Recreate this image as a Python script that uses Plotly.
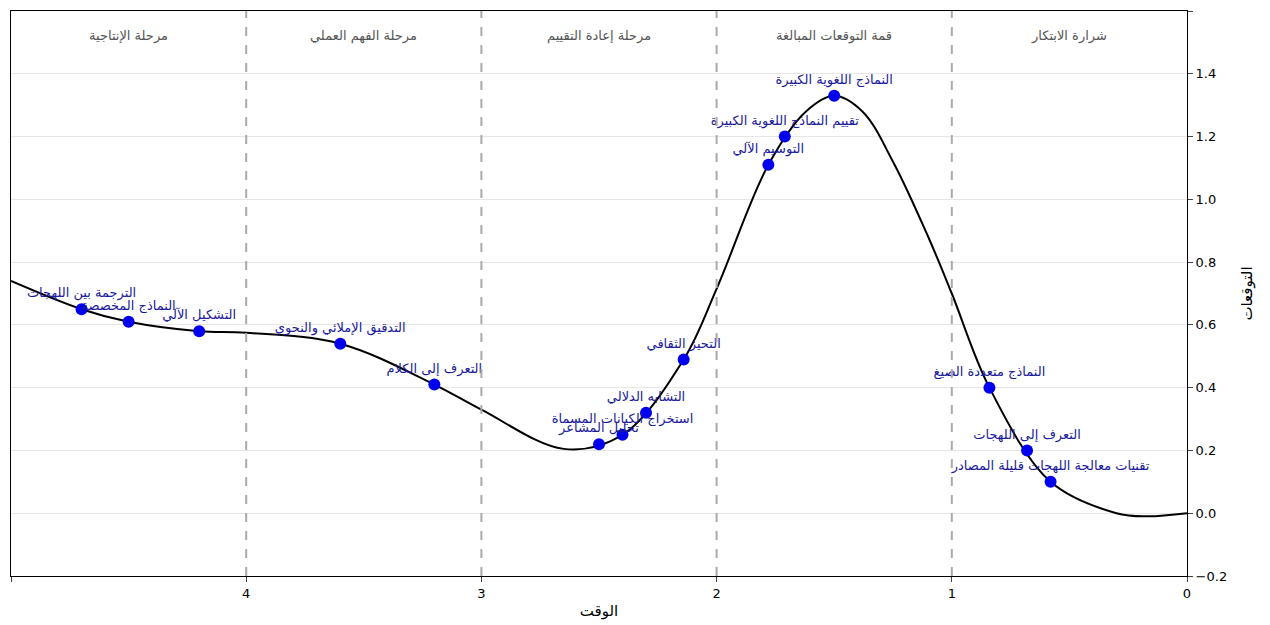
import plotly.graph_objects as go

curve_x = [5, 4.7, 4.5, 4.2, 4.0, 3.6, 3.2, 3.0, 2.65, 2.4, 2.14, 2.0, 1.78, 1.62, 1.5, 1.38, 1.25, 1.1, 1.0, 0.84, 0.58, 0.3, 0.17, 0.0]
curve_y = [0.74, 0.65, 0.61, 0.58, 0.575, 0.54, 0.41, 0.33, 0.205, 0.25, 0.49, 0.715, 1.11, 1.28, 1.33, 1.28, 1.12, 0.88, 0.70, 0.40, 0.10, 0.0, -0.01, 0.0]

tech_names = ["الترجمة بين اللهجات", "النماذج المخصصة", "التشكيل الآلي", "التدقيق الإملائي والنحوي",
              "التعرف إلى الكلام", "تحليل المشاعر", "استخراج الكيانات المسماة", "التشابه الدلالي",
              "التحيز الثقافي", "التوسيم الآلي", "تقييم النماذج اللغوية الكبيرة", "النماذج اللغوية الكبيرة",
              "النماذج متعددة الصيغ", "التعرف إلى اللهجات", "تقنيات معالجة اللهجات قليلة المصادر"]
tech_x = [4.70, 4.50, 4.20, 3.60, 3.20, 2.50, 2.40, 2.30, 2.14, 1.78, 1.71, 1.50, 0.84, 0.68, 0.58]
tech_y = [0.65, 0.61, 0.58, 0.54, 0.41, 0.22, 0.25, 0.32, 0.49, 1.11, 1.20, 1.33, 0.40, 0.20, 0.10]

phase_names = ["مرحلة الإنتاجية", "مرحلة الفهم العملي", "مرحلة إعادة التقييم", "قمة التوقعات المبالغة", "شرارة الابتكار"]
phase_x = [4.5, 3.5, 2.5, 1.5, 0.5]
phase_y = 1.52
dividers = [1, 2, 3, 4]

fig = go.Figure()
fig.add_trace(go.Scatter(x=curve_x, y=curve_y, mode="lines", line=dict(color="black", width=2, shape="spline", smoothing=1.0), hoverinfo="skip"))
fig.add_trace(go.Scatter(x=tech_x, y=tech_y, mode="markers+text", text=tech_names, textposition="top center",
                         marker=dict(color="#0000ee", size=12), textfont=dict(color="#1a1a9a", size=13)))
for d in dividers:
    fig.add_vline(x=d, line=dict(color="#aaaaaa", width=2, dash="dash"))
for n, px in zip(phase_names, phase_x):
    fig.add_annotation(x=px, y=phase_y, text=n, showarrow=False, font=dict(color="#555555", size=13))

fig.update_layout(
    width=1270, height=625, showlegend=False, plot_bgcolor="white", paper_bgcolor="white",
    margin=dict(l=3, r=91, t=3, b=57),
    font=dict(family="DejaVu Sans", color="black"),
    xaxis=dict(range=[5, 0], dtick=1, showgrid=False, zeroline=False, showline=True, linecolor="black", mirror=True,
               ticks="outside", title=dict(text="الوقت", font=dict(size=15), standoff=5), tickfont=dict(size=13)),
    yaxis=dict(range=[-0.2, 1.6], dtick=0.2, tickformat=".1f", side="right", showgrid=True, gridcolor="#e6e6e6",
               zeroline=False, showline=True, linecolor="black", mirror=True, ticks="outside",
               title=dict(text="التوقعات", font=dict(size=15)), tickfont=dict(size=13)),
)
fig.write_html("out.html")
